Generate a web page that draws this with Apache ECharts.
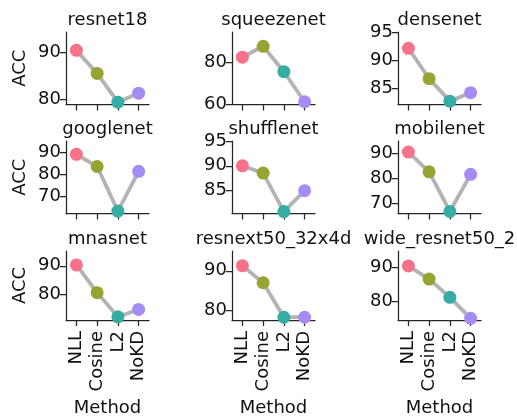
<!DOCTYPE html>
<html>
<head>
<meta charset="utf-8">
<script src="https://cdn.jsdelivr.net/npm/echarts@6/dist/echarts.min.js"></script>
<style>html,body{margin:0;padding:0;background:#fff;}#c{width:517px;height:418px;}</style>
</head>
<body>
<div id="c"></div>
<script>
const categories = ['NLL', 'Cosine', 'L2', 'NoKD'];
const models = ['resnet18', 'squeezenet', 'densenet', 'googlenet', 'shufflenet', 'mobilenet', 'mnasnet', 'resnext50_32x4d', 'wide_resnet50_2'];
const resnet18 = [90.4, 85.5, 79.4, 81.3];
const squeezenet = [82.4, 87.6, 75.5, 61.2];
const densenet = [92.1, 86.7, 82.7, 84.2];
const googlenet = [89.1, 83.6, 63.5, 81.4];
const shufflenet = [90.0, 88.5, 80.6, 84.9];
const mobilenet = [90.5, 82.6, 66.8, 81.6];
const mnasnet = [90.3, 80.6, 72.1, 74.7];
const resnext50 = [91.3, 87.0, 78.3, 78.3];
const wideResnet50 = [90.4, 86.5, 81.1, 74.9];
const values = [resnet18, squeezenet, densenet, googlenet, shufflenet, mobilenet, mnasnet, resnext50, wideResnet50];
const yTicks = [[80, 90], [60, 80], [85, 90, 95], [70, 80, 90], [85, 90, 95], [70, 80, 90], [80, 90], [80, 90], [80, 90]];
const yMin = [78.9, 59.9, 82.1, 62.4, 80.2, 66.0, 71.0, 77.6, 74.4];
const yMax = [94.3, 94.4, 95.0, 95.1, 95.1, 94.9, 95.2, 95.0, 94.8];

const pointColors = ['#f77189', '#97a431', '#36ada4', '#a48cf4'];
const ink = '#111111';
const spine = '#262626';
const font = 'DejaVu Sans';
const colLeft = [66, 232, 398];
const rowTop = [32, 141, 251];
const gw = 83, gh = 72.5;

const grid = [], xAxis = [], yAxis = [], series = [], graphic = [];
models.forEach((m, i) => {
  const r = Math.floor(i / 3), c = i % 3;
  grid.push({left: colLeft[c], top: rowTop[r], width: gw, height: gh, containLabel: false});
  const bottomRow = r === 2, leftCol = c === 0;
  xAxis.push({
    type: 'category', gridIndex: i, data: categories, boundaryGap: true,
    axisLine: {show: true, lineStyle: {color: spine, width: 1.25}},
    axisTick: {show: true, alignWithLabel: true, length: 6, lineStyle: {color: spine, width: 1.25}},
    axisLabel: {show: bottomRow, rotate: 90, fontSize: 18, fontFamily: font, color: ink, margin: 11, interval: 0},
    splitLine: {show: false},
    name: bottomRow ? 'Method' : '', nameLocation: 'middle', nameGap: 79,
    nameTextStyle: {fontSize: 18, fontFamily: font, color: ink}
  });
  yAxis.push({
    type: 'value', gridIndex: i, min: yMin[i], max: yMax[i],
    axisLine: {show: true, lineStyle: {color: spine, width: 1.25}},
    axisTick: {show: true, length: 6, customValues: yTicks[i], lineStyle: {color: spine, width: 1.25}},
    axisLabel: {show: true, customValues: yTicks[i], fontSize: 18, fontFamily: font, color: ink, margin: 5},
    splitLine: {show: false},
    name: leftCol ? 'ACC' : '', nameLocation: 'middle', nameRotate: 90, nameGap: 37,
    nameTextStyle: {fontSize: 18, fontFamily: font, color: ink}
  });
  series.push({
    type: 'line', xAxisIndex: i, yAxisIndex: i,
    data: values[i].map((v, k) => ({value: v, itemStyle: {color: pointColors[k]}})),
    symbol: 'circle', symbolSize: 13, showSymbol: true,
    lineStyle: {color: '#b3b3b3', width: 3.8},
    itemStyle: {borderWidth: 0},
    emphasis: {disabled: true}, animation: false, clip: false
  });
  graphic.push({
    type: 'text',
    x: colLeft[c] + gw / 2, y: rowTop[r] - 12,
    style: {text: m, fontSize: 18, fontFamily: font, fill: ink, textAlign: 'center', textVerticalAlign: 'middle'}
  });
});

const chart = echarts.init(document.getElementById('c'), null, {renderer: 'canvas'});
chart.setOption({
  backgroundColor: '#ffffff',
  animation: false,
  grid, xAxis, yAxis, series, graphic
});
</script>
</body>
</html>
